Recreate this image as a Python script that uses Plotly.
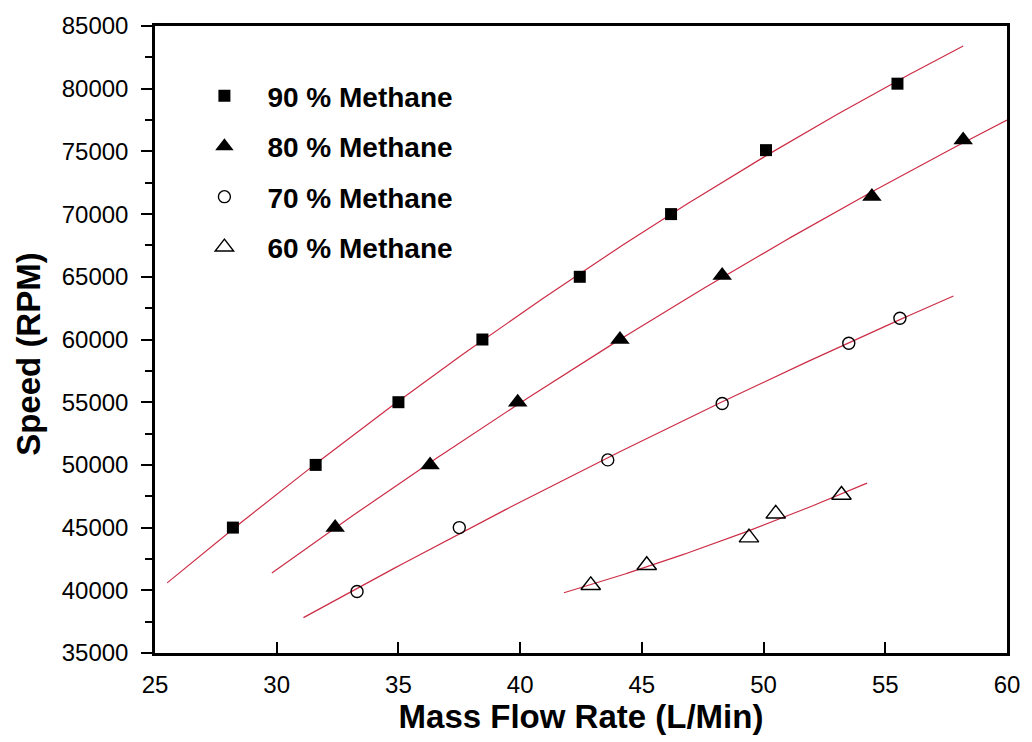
import numpy as np
import plotly.graph_objects as go

# ---- data ----
x90 = [28.2, 31.6, 35.0, 38.45, 42.45, 46.2, 50.1, 55.5]
y90 = [45000, 50000, 55000, 60000, 65000, 70000, 75100, 80400]

x80 = [32.4, 36.3, 39.9, 44.1, 48.3, 54.45, 58.2]
y80 = [45000, 50000, 55000, 60000, 65100, 71400, 75900]

x70 = [33.3, 37.5, 43.6, 48.3, 53.5, 55.6]
y70 = [39900, 45000, 50400, 54900, 59700, 61700]

x60 = [42.9, 45.2, 49.4, 50.5, 53.2]
y60 = [40400, 42000, 44200, 46100, 47600]

labels = ["90 % Methane", "80 % Methane", "70 % Methane", "60 % Methane"]
# x-extent of each fitted curve
fit_ranges = [(25.5, 58.2), (29.8, 60.0), (31.1, 57.8), (41.8, 54.25)]

x_ticks = [25, 30, 35, 40, 45, 50, 55, 60]
y_ticks = [35000, 40000, 45000, 50000, 55000, 60000, 65000, 70000, 75000, 80000, 85000]

series_x = [x90, x80, x70, x60]
series_y = [y90, y80, y70, y60]
symbols = ["square", "triangle-up", "circle-open", "triangle-up-open"]
sizes = [12, 17, 12, 17]

FONT = "Liberation Sans, Arial, sans-serif"
LINE_COLOR = "rgb(205,45,70)"

fig = go.Figure()

# fitted curves (2nd-order polynomial fit of each series)
for xs, ys, (a, b) in zip(series_x, series_y, fit_ranges):
    coef = np.polyfit(xs, ys, 2)
    xf = np.linspace(a, b, 120)
    fig.add_trace(go.Scatter(
        x=xf, y=np.polyval(coef, xf), mode="lines",
        line=dict(color=LINE_COLOR, width=1.2),
        showlegend=False, hoverinfo="skip", cliponaxis=True))

for i, (xs, ys, name, sym, sz) in enumerate(zip(series_x, series_y, labels, symbols, sizes)):
    open_ = "open" in sym
    fig.add_trace(go.Scatter(
        x=xs, y=ys, mode="markers", name=name, legendgroup=f"g{i}",
        marker=dict(symbol=sym, size=sz, color="black",
                    line=dict(color="#222222", width=1.4 if open_ else 0)),
        cliponaxis=False))

fig.update_layout(
    width=1032, height=742,
    margin=dict(l=155, r=21, t=24, b=83),
    paper_bgcolor="white", plot_bgcolor="white",
    font=dict(family=FONT, color="black"),
    showlegend=True,
    legend=dict(
        x=0.031, y=0.928, xanchor="left", yanchor="top",
        bgcolor="rgba(0,0,0,0)", borderwidth=0,
        font=dict(family=FONT, size=28, color="black", weight="bold"),
        itemwidth=76, tracegroupgap=11, itemsizing="trace",
    ),
    annotations=[dict(
        text="Speed (RPM)", textangle=-90, showarrow=False,
        xref="paper", yref="paper", x=-0.148, y=0.477,
        xanchor="center", yanchor="middle",
        font=dict(family=FONT, size=33, color="black", weight="bold"),
    )],
)

fig.update_xaxes(
    range=[25, 60], tickvals=x_ticks, ticktext=[str(v) for v in x_ticks],
    showgrid=False, zeroline=False,
    showline=True, linecolor="black", linewidth=2.5, mirror=True,
    ticks="inside", ticklen=11, tickwidth=2, tickcolor="black",
    tickfont=dict(family=FONT, size=24, color="black"),
    ticklabelstandoff=8,
    title=dict(text="Mass Flow Rate (L/Min)", standoff=9,
               font=dict(family=FONT, size=33, color="black", weight="bold")),
)
fig.update_yaxes(
    range=[35000, 85000], tickvals=y_ticks, ticktext=[str(v) for v in y_ticks],
    showgrid=False, zeroline=False,
    showline=True, linecolor="black", linewidth=2.5, mirror=True,
    ticks="outside", ticklen=11, tickwidth=2, tickcolor="black",
    minor=dict(dtick=2500, ticks="outside", ticklen=7, tickwidth=2, tickcolor="black", showgrid=False),
    tickfont=dict(family=FONT, size=24, color="black"),
    ticklabelstandoff=8,
)

fig.write_html("out.html")
